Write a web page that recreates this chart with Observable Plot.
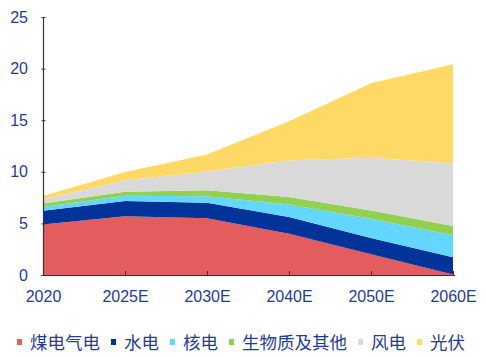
<!DOCTYPE html>
<html><head><meta charset="utf-8">
<script src="https://cdn.jsdelivr.net/npm/d3@7"></script>
<script src="https://cdn.jsdelivr.net/npm/@observablehq/plot@0.6"></script>
<style>
body{margin:0;background:#fff;}
#wrap{position:relative;width:486px;height:357px;overflow:hidden;font-family:"Liberation Sans",Arial,sans-serif;}
#legend{position:absolute;left:17px;top:329px;display:flex;align-items:center;font-family:"Noto Sans CJK SC",sans-serif;font-size:17.5px;color:#1f3c98;white-space:nowrap;}
.item{display:flex;align-items:center;margin-right:11px;}
.sw{width:5px;height:6px;margin-right:8px;}
</style></head>
<body><div id="wrap"><div id="chart"></div><div id="legend"></div></div>
<script>
const categories = ["2020","2025E","2030E","2040E","2050E","2060E"];
const seriesNames = ["煤电气电","水电","核电","生物质及其他","风电","光伏"];
const colors = ["#E35D5F","#003399","#63D7FF","#92D050","#D9D9D9","#FFD966"];
const coalGas = [4.9, 5.7, 5.5, 4.0, 2.0, 0.05];
const hydro = [1.33, 1.46, 1.51, 1.62, 1.58, 1.68];
const nuclear = [0.37, 0.52, 0.62, 1.22, 1.87, 2.13];
const biomass = [0.34, 0.38, 0.58, 0.71, 0.81, 0.9];
const wind = [0.41, 1.13, 1.83, 3.55, 5.1, 6.06];
const solar = [0.3, 0.78, 1.64, 3.81, 7.21, 9.6];
const yTicks = [0,5,10,15,20,25];

const seriesValues = [coalGas, hydro, nuclear, biomass, wind, solar];
const data = [];
seriesNames.forEach((s,i)=>categories.forEach((c,j)=>data.push({series:s, x:c, value:seriesValues[i][j]})));

const textColor = "#1f3c98";
const chart = Plot.plot({
  width: 486, height: 312,
  marginLeft: 41.5, marginRight: 31, marginTop: 17, marginBottom: 37,
  style: {fontFamily: "'Liberation Sans', Arial, sans-serif", fontSize: "16px", color: textColor, background: "#fff", overflow: "visible"},
  x: {type: "point", domain: categories, padding: 0},
  y: {domain: [0,25]},
  color: {domain: seriesNames, range: colors},
  marks: [
    Plot.areaY(data, {x: "x", y: "value", z: "series", fill: "series", order: null}),
    Plot.ruleY([0], {stroke: "#333", strokeWidth: 1.2}),
    Plot.ruleX([categories[0]], {y1: 0, y2: 25, stroke: "#333", strokeWidth: 1.2}),
    Plot.axisY({ticks: yTicks, tickSize: -4, tickPadding: 18, stroke: "#333", label: null, fill: textColor}),
    Plot.axisX({tickSize: -4, tickPadding: 19, stroke: "#333", label: null, fill: textColor})
  ]
});
document.getElementById("chart").appendChild(chart);

const legend = document.getElementById("legend");
seriesNames.forEach((s,i)=>{
  const it = document.createElement("div"); it.className="item";
  const sw = document.createElement("div"); sw.className="sw"; sw.style.background = colors[i];
  const t = document.createElement("span"); t.textContent = s;
  it.appendChild(sw); it.appendChild(t); legend.appendChild(it);
});
</script></body></html>
